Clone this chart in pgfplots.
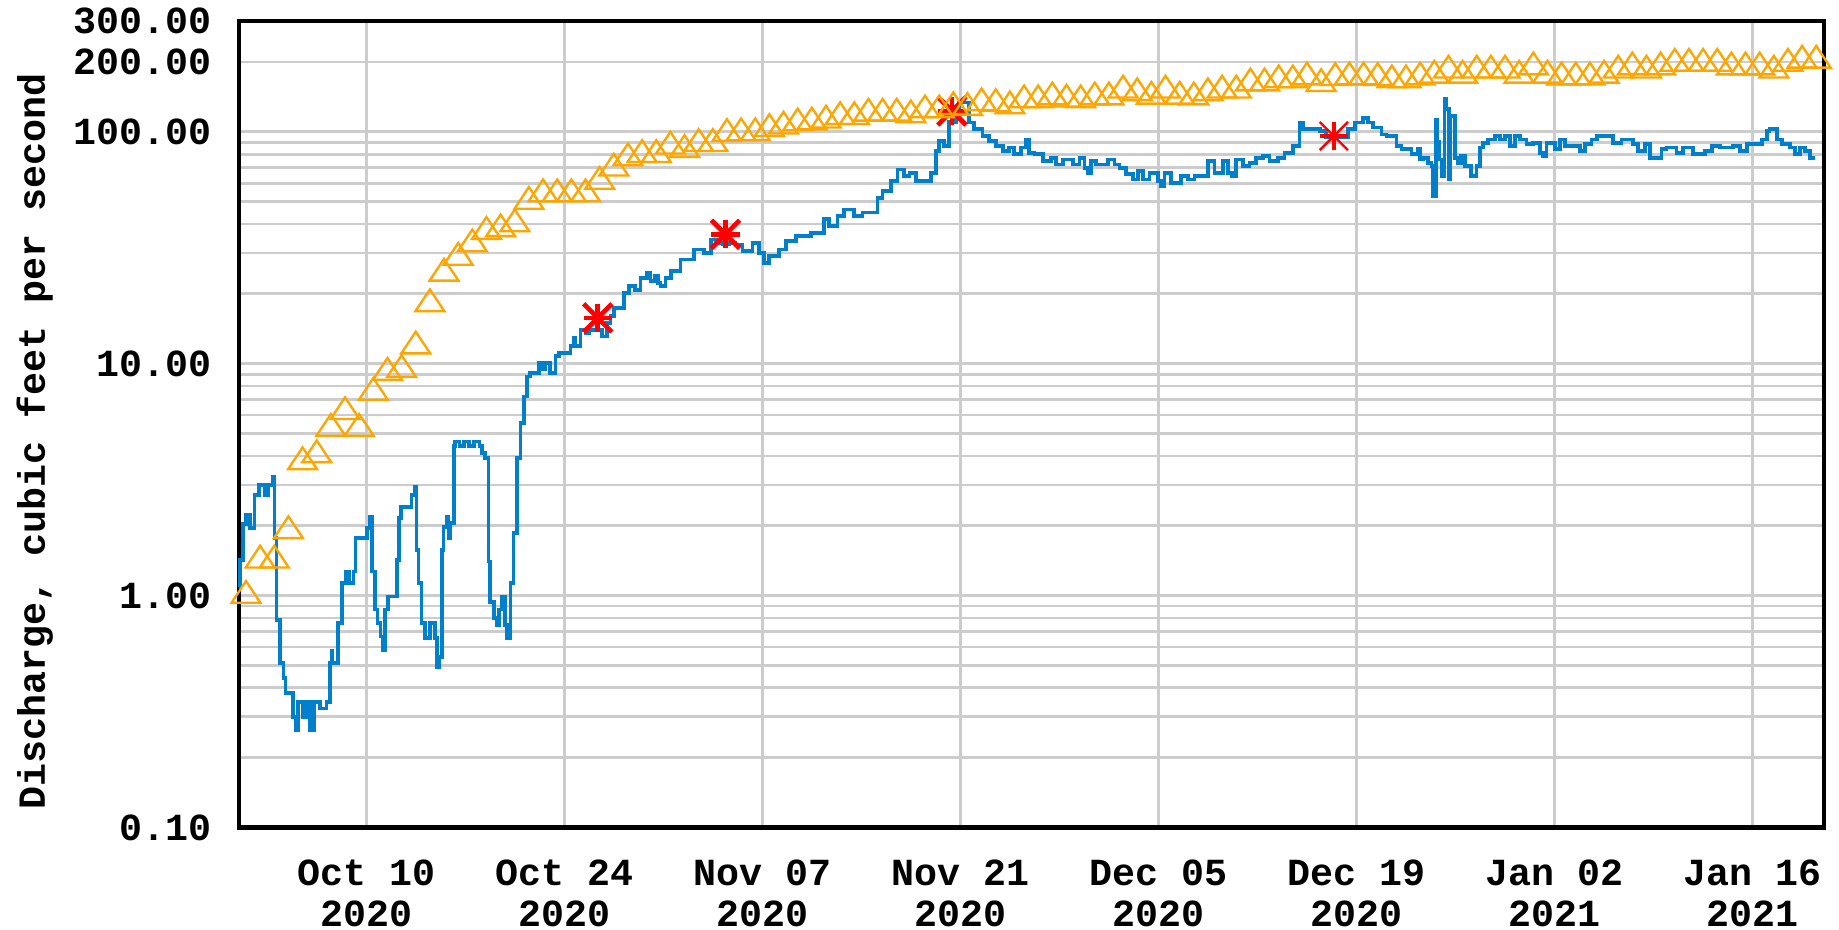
\documentclass[border=0pt]{standalone}
\usepackage{fontspec}
\setmainfont{Liberation Mono}
\usepackage{pgfplots}
\pgfplotsset{compat=1.18}
\definecolor{qblue}{HTML}{0080CC}
\definecolor{qorange}{HTML}{FFA500}
\definecolor{qgrid}{HTML}{CCCCCC}
\begin{document}
\begin{tikzpicture}
\path[use as bounding box] (-61.1pt,-26.1pt) rectangle (409.2pt,211.6pt);
\begin{axis}[
  at={(0pt,0pt)}, anchor=south west,
  scale only axis, width=405.4pt, height=206.2pt,
  ymode=log, xmin=0, xmax=112.06, ymin=0.1, ymax=300,
  clip=false,
  axis line style={line width=1.1pt, black},
  major tick length=0pt, minor tick length=0pt,
  xtick={9,23,37,51,65,79,93,107},
  xticklabels={{Oct 10\\2020},{Oct 24\\2020},{Nov 07\\2020},{Nov 21\\2020},{Dec 05\\2020},{Dec 19\\2020},{Jan 02\\2021},{Jan 16\\2021}},
  ytick={0.1,1,10,100,200,300},
  yticklabels={0.10,1.00,10.00,100.00,200.00,300.00},
  minor ytick={0.2,0.3,0.4,0.5,0.6,0.7,0.8,0.9,2,3,4,5,6,7,8,9,20,30,40,50,60,70,80,90},
  grid=both,
  major grid style={qgrid, line width=0.7pt},
  minor grid style={qgrid, line width=0.7pt},
  every tick label/.append style={font=\bfseries\fontsize{9.8}{10.6}\selectfont},
  yticklabel style={xshift=-3.5pt},
  xticklabel style={align=center, yshift=-4.7pt},
  ylabel={Discharge, cubic feet per second},
  ylabel style={at={(axis description cs:-0.1288,0.479)}, anchor=center, font=\bfseries\fontsize{9.8}{10.5}\selectfont},
]
% measured discharge
\addplot[only marks, red, mark=+, mark size=3.6pt, line width=1.2pt] coordinates {(25.37,15.75)(34.4,36.1)(50.4,122.9)};
\addplot[only marks, red, mark=x, mark size=5.1pt, line width=1.2pt] coordinates {(25.37,15.75)(34.4,36.1)(50.4,122.9)};
\addplot[only marks, red, mark=+, mark size=3.6pt, line width=1.1pt] coordinates {(77.4,95.8)};
\addplot[only marks, red, mark=x, mark size=5.1pt, line width=0.6pt] coordinates {(77.4,95.8)};
% daily median
\addplot[only marks, qorange, mark=triangle, mark size=3.7pt, mark options={xscale=1.15, line width=0.6pt}] coordinates {
(0.5,1.0)(1.5,1.42)(2.5,1.42)(3.5,1.90)(4.5,3.77)(5.5,4.04)(6.5,5.25)(7.5,6.20)(8.5,5.25)(9.5,7.51)
(10.5,9.16)(11.5,9.41)(12.5,11.9)(13.5,18.1)(14.5,24.5)(15.5,28.7)(16.5,32.8)(17.5,37.1)(18.5,38.1)(19.5,40.0)
(20.5,50.0)(21.5,53.9)(22.5,53.9)(23.5,53.9)(24.5,53.9)(25.5,61.0)(26.5,69.6)(27.5,77)(28.5,79.6)(29.5,79.6)
(30.5,86.5)(31.5,83.7)(32.5,88.8)(33.5,88.8)(34.5,98.1)(35.5,98.8)(36.5,98.8)(37.5,103)(38.5,105.5)(39.5,109)
(40.5,110)(41.5,112)(42.5,116)(43.5,116)(44.5,120)(45.5,120)(46.5,120)(47.5,118)(48.5,124)(49.5,124)
(50.5,128)(51.5,127)(52.5,133)(53.5,132)(54.5,129)(55.5,137)(56.5,137)(57.5,141)(58.5,138)(59.5,137)
(60.5,141)(61.5,141)(62.5,151)(63.5,147)(64.5,142)(65.5,151)(66.5,142)(67.5,141)(68.5,147)(69.5,151)
(70.5,151)(71.5,162)(72.5,162)(73.5,167)(74.5,167)(75.5,172)(76.5,161)(77.5,171)(78.5,172)(79.5,172)
(80.5,171)(81.5,167)(82.5,167)(83.5,172)(84.5,175)(85.5,184)(86.5,175)(87.5,184)(88.5,184)(89.5,184)
(90.5,175)(91.5,190)(92.5,175)(93.5,172)(94.5,172)(95.5,172)(96.5,175)(97.5,184)(98.5,190)(99.5,184)
(100.5,190)(101.5,197)(102.5,197)(103.5,197)(104.5,197)(105.5,190)(106.5,190)(107.5,190)(108.5,184)(109.5,197)
(110.5,203)(111.5,203)};
% discharge
\addplot[const plot, qblue, line width=0.95pt] coordinates {
(0,1.09)(0.1,1.42)(0.3,2.04)(0.5,2.23)(0.8,1.95)(1.1,2.72)(1.4,3.0)(1.8,2.72)(2.05,3.0)(2.4,3.24)(2.52,1.77)(2.66,0.785)(2.9,0.51)(3.15,0.44)(3.3,0.379)(3.8,0.30)(4.0,0.263)(4.2,0.348)(4.5,0.30)(4.75,0.348)(5.0,0.263)(5.3,0.348)(5.75,0.326)(6.2,0.348)(6.42,0.51)(6.55,0.58)(6.62,0.51)(7.0,0.76)(7.3,1.13)(7.55,1.27)(7.8,1.13)(8.1,1.27)(8.25,1.77)(9.05,1.95)(9.25,2.19)(9.4,1.27)(9.6,0.87)(9.8,0.76)(10.0,0.665)(10.2,0.58)(10.32,0.87)(10.55,0.99)(11.15,1.42)(11.3,2.16)(11.45,2.41)(12.2,2.72)(12.45,2.95)(12.55,1.57)(12.7,1.13)(12.9,0.76)(13.15,0.654)(13.5,0.76)(13.85,0.654)(14.0,0.49)(14.12,0.545)(14.35,1.57)(14.47,1.98)(14.7,2.19)(14.82,1.77)(14.94,2.05)(15.18,4.40)(15.29,4.62)(15.6,4.40)(15.9,4.62)(16.24,4.40)(16.6,4.62)(17.0,4.40)(17.18,4.12)(17.42,3.92)(17.65,1.40)(17.77,0.94)(18.01,0.80)(18.2,0.746)(18.36,0.87)(18.6,0.99)(18.8,0.746)(18.95,0.654)(19.19,1.13)(19.42,1.86)(19.66,3.92)(19.9,5.55)(20.13,7.22)(20.37,8.81)(20.6,9.12)(21.19,10.07)(21.5,9.5)(21.66,10.07)(22.0,9.12)(22.37,10.75)(22.61,11.1)(23.43,11.9)(23.67,12.9)(23.8,11.9)(24.14,14.0)(24.5,13.5)(24.73,14.0)(25.67,13.1)(26.03,15.0)(26.26,16.0)(26.5,17.4)(27.21,20.2)(27.57,21.6)(28.0,20.8)(28.39,23.4)(28.87,24.6)(29.1,22.7)(29.4,24.0)(29.6,22.2)(29.81,21.6)(30.16,23.4)(30.52,25.0)(31.22,28.1)(32.17,31.1)(32.88,30.1)(33.35,34.3)(33.7,33.2)(34.2,32.6)(34.65,33.2)(35.1,32.6)(35.59,30.5)(36.3,33.2)(36.77,30.1)(37.12,27.2)(37.48,29.1)(38.18,31.1)(38.66,33.7)(39.36,35.5)(40.42,36.7)(41.37,41.9)(41.72,39.2)(42.31,43.3)(42.79,46.2)(43.49,43.3)(44.08,44.8)(45.14,51.9)(45.5,55.5)(46.09,61.2)(46.56,68.8)(47.03,64.4)(47.4,66.6)(47.86,61.2)(48.92,66.6)(49.27,82.5)(49.51,91.2)(49.86,86.8)(50.22,110)(50.69,125)(50.9,133.6)(51.63,109.5)(51.98,102.4)(52.57,95.8)(53.04,91.2)(53.51,86.8)(53.99,82.5)(54.46,85.4)(54.81,79.9)(55.28,85.4)(55.64,92.7)(55.87,81.2)(56.23,79.9)(56.82,74.7)(57.41,77.3)(57.76,72.3)(58.23,76)(58.94,72.3)(59.41,77.3)(59.77,70)(60.0,66.6)(60.24,74.7)(60.59,72.3)(61.42,76)(61.89,72.3)(62.24,70)(62.72,65.5)(63.19,62.3)(63.54,67.7)(63.89,62.3)(64.37,66.6)(64.96,61.2)(65.2,58.2)(65.43,66.6)(65.9,60.3)(66.61,64.4)(67.08,62.3)(67.55,64.4)(68.49,74.7)(68.97,66.6)(69.56,74.7)(69.91,66.6)(70.2,64.4)(70.5,76)(70.97,71.1)(71.44,73.5)(71.92,77.3)(72.39,78.5)(72.86,74.7)(73.45,77.3)(73.92,81.2)(74.51,86.8)(74.98,109.5)(75.22,102.4)(76.4,100.7)(76.87,94.3)(78.4,102.4)(78.87,109.5)(79.46,115)(79.82,109.5)(80.17,104.2)(80.76,97.4)(81.12,95.8)(81.82,86.8)(82.18,84)(82.88,79.9)(83.35,84)(83.5,76)(83.7,77.3)(84.06,73.5)(84.3,71.1)(84.41,52.8)(84.6,113)(84.69,90)(84.85,76)(85.0,64.4)(85.23,139)(85.35,125)(85.54,62.3)(85.59,117)(85.94,77.3)(86.18,73.5)(86.41,78.5)(86.65,71.1)(87.12,64.4)(87.48,71.1)(87.71,85.4)(87.95,89.7)(88.3,92.7)(88.77,95.8)(89.13,92.7)(89.5,95.8)(89.83,86.8)(90.19,95.8)(90.54,92.7)(91.01,88.3)(91.49,89.7)(91.96,81.2)(92.2,78.5)(92.43,89.7)(93.02,84)(93.37,92.7)(93.73,86.8)(94.79,82.5)(95.14,88.3)(95.61,92.7)(96.0,95.8)(97.15,89.7)(97.74,92.7)(98.56,88.3)(98.92,82.5)(99.39,88.3)(99.74,77.3)(100.57,84)(100.92,85.4)(101.63,81.2)(102.1,85.4)(102.81,79.9)(103.63,82.5)(104.11,86.8)(104.7,85.4)(105.64,86.8)(106.11,82.5)(106.58,88.3)(107.17,88.3)(107.65,92.7)(108.0,100.7)(108.2,102.4)(108.71,92.7)(109.06,88.3)(109.65,85.4)(110.0,79.9)(110.36,85.4)(110.71,82.5)(111.07,77.3)(111.42,77.3)};
\end{axis}
\end{tikzpicture}
\end{document}
